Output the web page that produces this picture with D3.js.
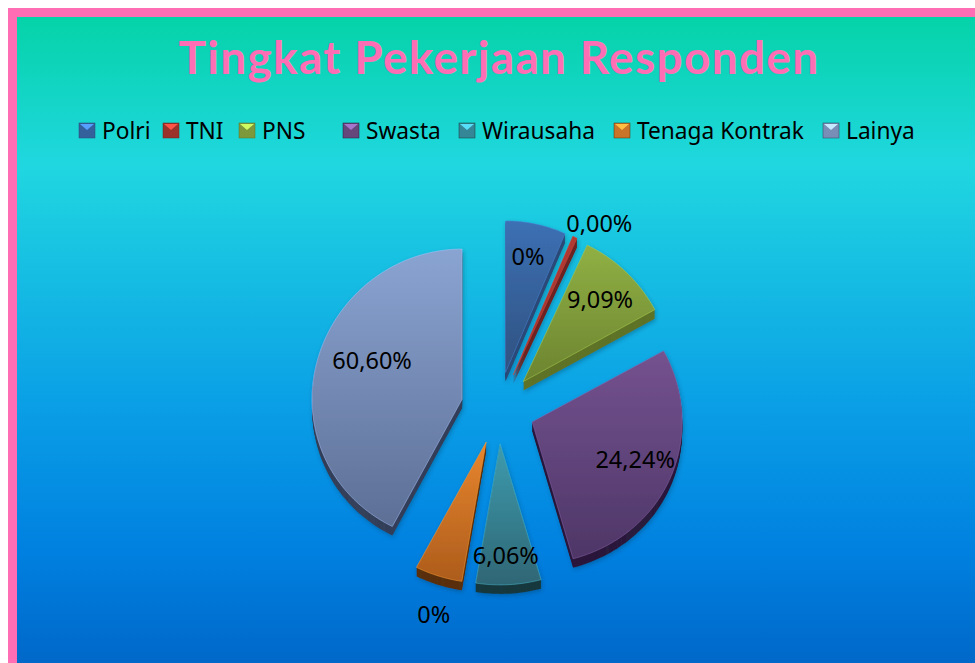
<!DOCTYPE html>
<html>
<head>
<meta charset="utf-8">
<script src="https://cdn.jsdelivr.net/npm/d3@7"></script>
<style>
    html, body { margin: 0; padding: 0; background: #fff; }
    svg { display: block; }
    text { font-family: "Noto Sans", sans-serif; }
</style>
</head>
<body>
<div class="chart"></div>
<script>
// Chart data
var categories = ["Polri", "TNI", "PNS", "Swasta", "Wirausaha", "Tenaga Kontrak", "Lainya"];
var sliceValues = [6.5, 0.5, 10, 28.6, 7, 5.1, 42.3];     // Drawn slice sizes, they do not follow the printed labels
var sliceLabels = ["0%", "0,00%", "9,09%", "24,24%", "6,06%", "0%", "60,60%"];
var chartTitle = "Tingkat Pekerjaan Responden";

// Colours
var topColors = ["#3c70b4", "#b23a32", "#90b044", "#74528f", "#3d9cae", "#e8862e", "#8aa4d2"];
var bottomColors = ["#2f5280", "#9c332c", "#6c8430", "#4e3667", "#2f6675", "#ad5c1c", "#5d6f95"];
var depthColors = ["#2b4a78", "#6e2420", "#5e7327", "#2a1a3c", "#17393f", "#5a300a", "#343f5a"];

// Layout
var width = 975;
var height = 663;
var cx = 498, cy = 408, radius = 150, explode = 37, depth = 9;
var legendLefts = [79, 163, 239, 343, 459, 614, 823];
var labelPolar = [[11.3, 153], [29, 209], [43.6, 148], [111, 147], [177, 149], [197.2, 217], [290, 134]];

const svg = d3.select("div.chart")
    .append("svg")
    .attr("width", width)
    .attr("height", height);

const defs = svg.append("defs");

// Background gradient of the panel
var bg = defs.append("linearGradient")
    .attr("id", "bg")
    .attr("x1", 0).attr("y1", 0).attr("x2", 0).attr("y2", 1);
[[0, "#05d3a8"], [0.23, "#20d7e0"], [0.6, "#0a9fe6"], [0.83, "#0080e0"], [1, "#0068c9"]].forEach(function (s) {
    bg.append("stop").attr("offset", s[0]).attr("stop-color", s[1]);
});

// One vertical gradient per slice
categories.forEach(function (c, i) {
    var g = defs.append("linearGradient")
        .attr("id", "slice" + i)
        .attr("x1", 0).attr("y1", 0).attr("x2", 0).attr("y2", 1);
    g.append("stop").attr("offset", 0).attr("stop-color", topColors[i]);
    g.append("stop").attr("offset", 1).attr("stop-color", bottomColors[i]);
});

var shadow = defs.append("filter")
    .attr("id", "shadow")
    .attr("x", "-20%").attr("y", "-20%").attr("width", "140%").attr("height", "140%");
shadow.append("feDropShadow")
    .attr("dx", 1).attr("dy", 2)
    .attr("stdDeviation", 2)
    .attr("flood-color", "#003050")
    .attr("flood-opacity", 0.35);

// Pink frame and panel
svg.append("rect")
    .attr("x", 8).attr("y", 8)
    .attr("width", width - 8).attr("height", height - 8)
    .attr("fill", "#ff6eb4");
svg.append("rect")
    .attr("x", 17).attr("y", 17)
    .attr("width", width - 17).attr("height", height - 17)
    .attr("fill", "url(#bg)");

// Title
svg.append("text")
    .attr("x", 499)
    .attr("y", 74)
    .attr("text-anchor", "middle")
    .attr("fill", "#ff6eb4")
    .attr("font-size", 46)
    .attr("font-weight", 700)
    .attr("letter-spacing", 1.3)
    .style("font-family", "Lato, sans-serif")
    .text(chartTitle);

// Legend
var legend = svg.append("g")
    .selectAll("g")
    .data(categories)
    .join("g")
    .attr("transform", (d, i) => `translate(${legendLefts[i]},123)`);
legend.append("rect")
    .attr("width", 16)
    .attr("height", 15)
    .attr("fill", (d, i) => d3.color(topColors[i]).darker(0.4))
    .attr("stroke", (d, i) => depthColors[i])
    .attr("stroke-width", 0.5);
legend.append("path")
    .attr("d", "M1,1 L15,1 L8,7 Z")
    .attr("fill", (d, i) => d3.color(topColors[i]).brighter(1));
legend.append("text")
    .attr("x", 23)
    .attr("y", 16)
    .attr("font-size", 22.7)
    .attr("fill", "#000")
    .text(d => d);

// Pie slices, exploded and slightly foreshortened towards the bottom
var pie = d3.pie().sort(null)(sliceValues);

function project(x, y) {
    return [cx + x, cy + y * 0.9755 * (1 - 0.03 * y / (radius + explode))];
}

function slicePath(d) {
    var mid = (d.startAngle + d.endAngle) / 2;
    var ox = explode * Math.sin(mid);
    var oy = -explode * Math.cos(mid);
    var n = Math.max(2, Math.ceil((d.endAngle - d.startAngle) * 40));
    var pts = [project(ox, oy)];
    d3.range(n + 1).forEach(function (k) {
        var a = d.startAngle + (d.endAngle - d.startAngle) * k / n;
        pts.push(project(ox + radius * Math.sin(a), oy - radius * Math.cos(a)));
    });
    return d3.line()(pts) + "Z";
}

var slices = svg.append("g")
    .selectAll("g")
    .data(pie)
    .join("g")
    .attr("filter", "url(#shadow)");

// The side wall: copies of the slice stepping down in the dark colour
d3.range(depth, 0, -1).forEach(function (step) {
    slices.append("path")
        .attr("d", slicePath)
        .attr("transform", `translate(0,${step})`)
        .attr("fill", (d, i) => depthColors[i]);
});

slices.append("path")
    .attr("d", slicePath)
    .attr("fill", (d, i) => `url(#slice${i})`)
    .attr("stroke", (d, i) => d3.color(topColors[i]).brighter(0.5))
    .attr("stroke-opacity", 0.5)
    .attr("stroke-width", 1);

// Data labels
svg.append("g")
    .selectAll("text")
    .data(sliceLabels)
    .join("text")
    .attr("x", (d, i) => cx + labelPolar[i][1] * Math.sin(labelPolar[i][0] * Math.PI / 180))
    .attr("y", (d, i) => cy - 1 - labelPolar[i][1] * Math.cos(labelPolar[i][0] * Math.PI / 180))
    .attr("dy", "0.35em")
    .attr("text-anchor", "middle")
    .attr("font-size", 23.5)
    .attr("fill", "#000")
    .text(d => d);
</script>
</body>
</html>
